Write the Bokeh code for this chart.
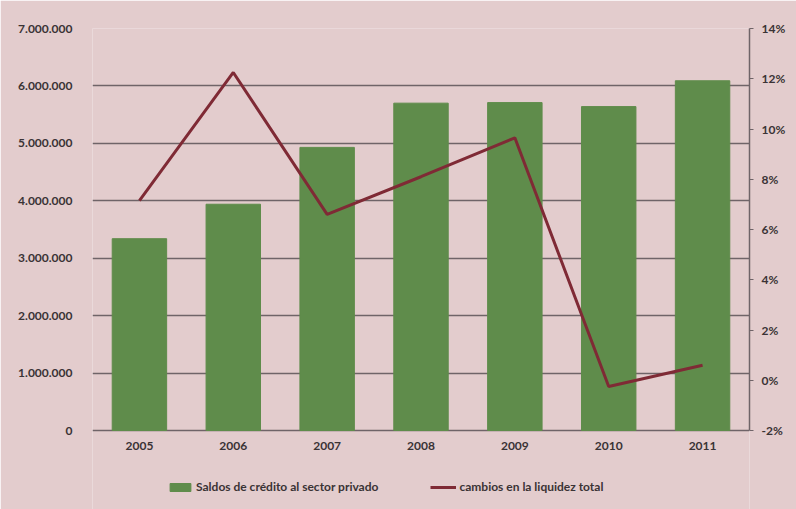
from bokeh.plotting import figure
from bokeh.models import (ColumnDataSource, FactorRange, Range1d, LinearAxis,
                          CustomJSTickFormatter, PrintfTickFormatter, Legend, LegendItem,
                          FixedTicker)
from bokeh.core.properties import value
from bokeh.embed import file_html
from bokeh.resources import INLINE

years = ["2005", "2006", "2007", "2008", "2009", "2010", "2011"]
saldos_credito = [3340000, 3940000, 4930000, 5700000, 5710000, 5640000, 6090000]
cambios_liquidez = [7.15, 12.25, 6.6, 8.1, 9.65, -0.25, 0.6]
left_ticks = [0, 1000000, 2000000, 3000000, 4000000, 5000000, 6000000, 7000000]
right_ticks = [-2, 0, 2, 4, 6, 8, 10, 12, 14]

BG = "#e3cccd"
GREEN = "#5f8c4b"
RED = "#7f2a35"
GRID = "#6f6468"
TXT = "#3a3335"
FONT = "Lato"

# layout: data area 402px tall, plus 79px strip below for year labels and legend
PLOT_H = 402
STRIP_H = 79
L_MAX, R_MIN, R_MAX = 7000000, -2, 14
l_start = -L_MAX * STRIP_H / PLOT_H
r_start = R_MIN - (R_MAX - R_MIN) * STRIP_H / PLOT_H

src = ColumnDataSource(dict(year=years, credito=saldos_credito, liquidez=cambios_liquidez,
                            base=[0] * len(years)))

p = figure(x_range=FactorRange(*years, range_padding=0), y_range=Range1d(l_start, L_MAX),
           frame_width=657, frame_height=PLOT_H + STRIP_H, output_backend="svg",
           toolbar_location=None, x_axis_location=None,
           background_fill_color=BG, border_fill_color=BG,
           min_border_left=92, min_border_right=47, min_border_top=28, min_border_bottom=0)
p.outline_line_color = None
p.extra_y_ranges = {"pct": Range1d(r_start, R_MAX)}

bars = p.vbar(x="year", top="credito", width=0.58, source=src, color=GREEN)
line = p.line(x="year", y="liquidez", source=src, y_range_name="pct",
              line_color=RED, line_width=3)

# category labels under the zero line
p.text(x="year", y="base", text="year", source=src, text_align="center",
       text_baseline="top", y_offset=11, text_font=value(FONT), text_font_style="bold",
       text_font_size="12px", text_color=TXT)

# left axis
ya = p.yaxis[0]
ya.ticker = FixedTicker(ticks=left_ticks)
ya.formatter = CustomJSTickFormatter(code="""
return tick.toFixed(0).replace(/\\B(?=(\\d{3})+(?!\\d))/g, '.');
""")
ya.axis_line_color = None
ya.major_tick_line_color = None
ya.minor_tick_line_color = None
ya.major_label_text_font = FONT
ya.major_label_text_font_style = "bold"
ya.major_label_text_font_size = "12px"
ya.major_label_text_color = TXT
ya.major_label_standoff = 14

# right axis
ra = LinearAxis(y_range_name="pct", ticker=FixedTicker(ticks=right_ticks),
                formatter=PrintfTickFormatter(format="%d%%"), bounds=(R_MIN, R_MAX))
ra.axis_line_color = GRID
ra.axis_line_width = 1.5
ra.major_tick_line_color = GRID
ra.major_tick_out = 4
ra.major_tick_in = 0
ra.minor_tick_line_color = None
ra.major_label_text_font = FONT
ra.major_label_text_font_style = "bold"
ra.major_label_text_font_size = "12px"
ra.major_label_text_color = TXT
ra.major_label_standoff = 8
p.add_layout(ra, "right")

p.xgrid.grid_line_color = None
p.ygrid.ticker = FixedTicker(ticks=left_ticks)
p.ygrid.grid_line_color = GRID
p.ygrid.grid_line_width = 1.5

legend = Legend(items=[LegendItem(label="Saldos de crédito al sector privado", renderers=[bars]),
                       LegendItem(label="cambios en la liquidez total", renderers=[line])],
                orientation="horizontal", location=(75, 15),
                background_fill_alpha=0, border_line_color=None,
                label_text_font=FONT, label_text_font_style="bold",
                label_text_font_size="12px", label_text_color=TXT,
                glyph_width=26, glyph_height=10, spacing=52, label_standoff=3,
                margin=0, padding=0)
p.add_layout(legend, "center")

open("out.html", "w").write(file_html(p, INLINE))
